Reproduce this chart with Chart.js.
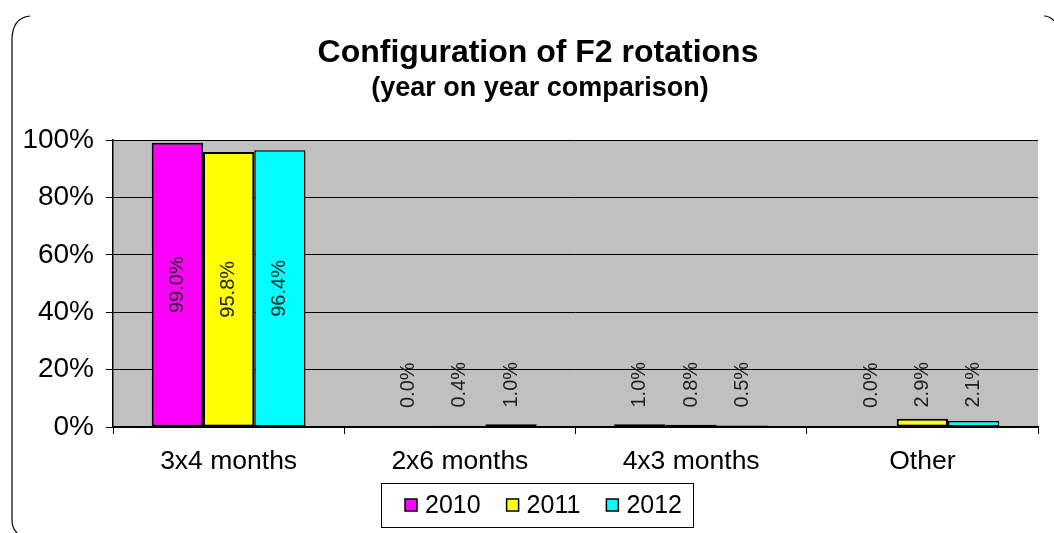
<!DOCTYPE html>
<html>
<head>
<meta charset="utf-8">
<script src="https://cdn.jsdelivr.net/npm/chart.js@4.4.0/dist/chart.umd.min.js"></script>
<style>
  html, body { margin: 0; padding: 0; background: #fff; }
  #wrap { width: 1054px; height: 533px; position: relative; }
</style>
</head>
<body>
<div id="wrap"><canvas id="chart" width="1054" height="533"></canvas></div>
<script>
const categories = ["3x4 months", "2x6 months", "4x3 months", "Other"];
const years = ["2010", "2011", "2012"];
const values2010 = [99.0, 0.0, 1.0, 0.0];
const values2011 = [95.8, 0.4, 0.8, 2.9];
const values2012 = [96.4, 1.0, 0.5, 2.1];
const yearColors = ["#FF00FF", "#FFFF00", "#00FFFF"];
const yTicks = [0, 20, 40, 60, 80, 100];
const titleText = "Configuration of F2 rotations";
const subtitleText = "(year on year comparison)";

const FONT = "'Liberation Sans', Arial, sans-serif";

// gray plot background, rounded frame, titles and legend box
const decor = {
  id: 'decor',
  beforeDraw(chart) {
    const ctx = chart.ctx;
    const a = chart.chartArea;
    ctx.save();
    ctx.fillStyle = '#C0C0C0';
    ctx.fillRect(a.left, a.top, a.right - a.left, a.bottom - a.top);
    // frame: left side and corners only (top/bottom are cut off in the original)
    ctx.strokeStyle = '#000';
    ctx.lineWidth = 1.2;
    ctx.beginPath();
    ctx.moveTo(30, 16);
    ctx.quadraticCurveTo(12, 18, 12, 40);
    ctx.lineTo(12, 520);
    ctx.quadraticCurveTo(12, 528, 17, 533);
    ctx.stroke();
    ctx.beginPath();
    ctx.moveTo(1044, 16);
    ctx.quadraticCurveTo(1050, 16, 1054, 21);
    ctx.stroke();

    // titles
    ctx.fillStyle = '#000';
    ctx.textAlign = 'center';
    ctx.textBaseline = 'middle';
    ctx.font = 'bold 32px ' + FONT;
    ctx.fillText(titleText, 538, 53);
    ctx.font = 'bold 27px ' + FONT;
    ctx.fillText(subtitleText, 540, 89);
    ctx.restore();
  },
  afterDraw(chart) {
    // legend built from the datasets
    const ctx = chart.ctx;
    ctx.save();
    ctx.strokeStyle = '#000';
    ctx.lineWidth = 1;
    ctx.strokeRect(381.5, 483.5, 312, 44);
    ctx.font = '25px ' + FONT;
    ctx.textBaseline = 'middle';
    ctx.textAlign = 'left';
    let x = 405;
    const cy = 505;
    chart.data.datasets.forEach(ds => {
      ctx.fillStyle = ds.backgroundColor;
      ctx.fillRect(x, cy - 6, 12, 12);
      ctx.lineWidth = 1.5;
      ctx.strokeRect(x, cy - 6, 12, 12);
      ctx.fillStyle = '#000';
      ctx.fillText(ds.label, x + 20, cy + 1);
      x += 20 + ctx.measureText(ds.label).width + 26;
    });
    ctx.restore();
  }
};

// rotated value labels
const valueLabels = {
  id: 'valueLabels',
  afterDatasetsDraw(chart) {
    const ctx = chart.ctx;
    ctx.save();
    ctx.font = '20px ' + FONT;
    ctx.fillStyle = '#222';
    chart.data.datasets.forEach((ds, i) => {
      const meta = chart.getDatasetMeta(i);
      meta.data.forEach((bar, j) => {
        const v = ds.data[j];
        const txt = v.toFixed(1) + '%';
        ctx.save();
        if (v > 50) {
          const cy = (bar.y + bar.base) / 2;
          ctx.translate(bar.x, cy);
          ctx.rotate(-Math.PI / 2);
          ctx.textAlign = 'center';
        } else {
          ctx.translate(bar.x, bar.base - 19);
          ctx.rotate(-Math.PI / 2);
          ctx.textAlign = 'left';
        }
        ctx.textBaseline = 'middle';
        ctx.fillText(txt, 0, 0);
        ctx.restore();
      });
    });
    ctx.restore();
  }
};

const allValues = [values2010, values2011, values2012];

new Chart(document.getElementById('chart'), {
  type: 'bar',
  data: {
    labels: categories,
    datasets: years.map((y, i) => ({
      label: y,
      data: allValues[i],
      backgroundColor: yearColors[i],
      borderColor: '#000',
      borderWidth: i === 2 ? 1.5 : 2,
      borderSkipped: false,
      categoryPercentage: 0.665,
      barPercentage: 1.0
    }))
  },
  options: {
    responsive: false,
    animation: false,
    layout: { padding: { left: 0, right: 16, top: 140, bottom: 56 } },
    plugins: {
      title: { display: false },
      legend: { display: false },
      tooltip: { enabled: false }
    },
    scales: {
      x: {
        grid: {
          display: true,
          drawOnChartArea: false,
          drawTicks: true,
          tickLength: 7,
          color: '#000',
          offset: true
        },
        border: { display: true, color: '#000', width: 1.5 },
        ticks: {
          color: '#000',
          font: { family: FONT, size: 26.5 },
          padding: 12,
          maxRotation: 0
        },
        afterFit(scale) { scale.height = 50; }
      },
      y: {
        min: 0,
        max: 100,
        afterBuildTicks(scale) {
          scale.ticks = yTicks.map(v => ({ value: v }));
        },
        grid: {
          color: '#000',
          lineWidth: 1,
          drawTicks: true,
          tickLength: 7
        },
        border: { display: true, color: '#000', width: 1.5 },
        ticks: {
          color: '#000',
          font: { family: FONT, size: 28 },
          padding: 12,
          callback: v => v + '%'
        },
        afterFit(scale) { scale.width = 113; }
      }
    }
  },
  plugins: [decor, valueLabels]
});
</script>
</body>
</html>
